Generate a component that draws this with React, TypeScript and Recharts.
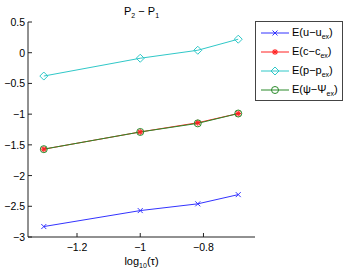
import React from 'react';
import { LineChart, Line, XAxis, YAxis } from 'recharts';

// log10(tau) and the four error curves (log10 of error)
const logTau = [-1.305, -1.0, -0.818, -0.69];
const errU = [-2.83, -2.57, -2.46, -2.31];
const errC = [-1.57, -1.29, -1.14, -0.99];
const errP = [-0.38, -0.09, 0.04, 0.22];
const errPsi = [-1.57, -1.29, -1.15, -0.99];

const xTicks = [-1.2, -1, -0.8];
const yTicks = [-3, -2.5, -2, -1.5, -1, -0.5, 0, 0.5];

const data = logTau.map((x, i) => ({ x, u: errU[i], c: errC[i], p: errP[i], psi: errPsi[i] }));

const FONT = '"Liberation Sans", Arial, sans-serif';
const AXIS = '#222';
const BLUE = '#3333ff';
const RED = '#ff2020';
const CYAN = '#30c8c8';
const GREEN = '#2a8a2a';

const fmt = (v: number) => (v < 0 ? '\u2212' + String(-v) : String(v));

// marker shapes, matlab style
const Marker = ({ kind, cx, cy, color }: any) => {
  if (kind === 'x') {
    const r = 2.5;
    return (
      <g stroke={color} strokeWidth={1}>
        <line x1={cx - r} y1={cy - r} x2={cx + r} y2={cy + r} />
        <line x1={cx - r} y1={cy + r} x2={cx + r} y2={cy - r} />
      </g>
    );
  }
  if (kind === 'star') {
    const r = 3;
    const d = r * 0.72;
    return (
      <g stroke={color} strokeWidth={1.1}>
        <line x1={cx - r} y1={cy} x2={cx + r} y2={cy} />
        <line x1={cx} y1={cy - r} x2={cx} y2={cy + r} />
        <line x1={cx - d} y1={cy - d} x2={cx + d} y2={cy + d} />
        <line x1={cx - d} y1={cy + d} x2={cx + d} y2={cy - d} />
      </g>
    );
  }
  if (kind === 'diamond') {
    const r = 4;
    return (
      <polygon
        points={`${cx},${cy - r} ${cx + r},${cy} ${cx},${cy + r} ${cx - r},${cy}`}
        fill="none"
        stroke={color}
        strokeWidth={1}
      />
    );
  }
  return <circle cx={cx} cy={cy} r={3.5} fill="none" stroke={color} strokeWidth={1} />;
};

const dotFor = (kind: string, color: string) => (p: any) => (
  <Marker key={`${kind}-${p.index}`} kind={kind} cx={p.cx} cy={p.cy} color={color} />
);

// ticks drawn inward, matlab style
const BottomTick = (p: any) => (
  <g>
    <line x1={p.x} y1={p.y} x2={p.x} y2={p.y - 4} stroke={AXIS} />
    <text x={p.x} y={p.y + 14} textAnchor="middle" fontSize={10.5} fontFamily={FONT} fill="#000">
      {fmt(p.payload.value)}
    </text>
  </g>
);
const TopTick = (p: any) => <line x1={p.x} y1={p.y} x2={p.x} y2={p.y + 4} stroke={AXIS} />;
const LeftTick = (p: any) => (
  <g>
    <line x1={p.x} y1={p.y} x2={p.x + 4} y2={p.y} stroke={AXIS} />
    <text x={p.x - 3} y={p.y + 4} textAnchor="end" fontSize={10.5} fontFamily={FONT} fill="#000">
      {fmt(p.payload.value)}
    </text>
  </g>
);
const RightTick = (p: any) => <line x1={p.x} y1={p.y} x2={p.x - 4} y2={p.y} stroke={AXIS} />;

const legendRows = [
  { kind: 'x', color: BLUE, a: 'u', b: 'u' },
  { kind: 'star', color: RED, a: 'c', b: 'c' },
  { kind: 'diamond', color: CYAN, a: 'p', b: 'p' },
  { kind: 'circle', color: GREEN, a: '\u03c8', b: '\u03a8' },
];

const subStyle: React.CSSProperties = { fontSize: 7, verticalAlign: -3, lineHeight: 0 };

const LegendBox = () => (
  <div
    style={{
      position: 'absolute',
      left: 255,
      top: 21,
      border: '1px solid #444',
      background: '#fff',
      width: 86,
      height: 77,
      paddingTop: 1,
      fontFamily: FONT,
      fontSize: 11,
    }}
  >
    {legendRows.map((r) => (
      <div key={r.kind} style={{ display: 'flex', alignItems: 'center', height: 19 }}>
        <svg width={36} height={19} style={{ flex: 'none' }}>
          <line x1={5} y1={10} x2={33} y2={10} stroke={r.color} strokeWidth={1} />
          <Marker kind={r.kind} cx={19} cy={10} color={r.color} />
        </svg>
        <span style={{ whiteSpace: 'nowrap', lineHeight: '19px' }}>
          E({r.a}
          {'\u2212'}
          {r.b}
          <span style={subStyle}>ex</span>)
        </span>
      </div>
    ))}
  </div>
);

export default function App() {
  return (
    <div style={{ position: 'absolute', left: 0, top: 0, width: 354, height: 273, background: '#fff' }}>
      <LineChart width={354} height={273} data={data} margin={{ top: 22, right: 99, left: 0, bottom: 0 }}>
        <XAxis
          dataKey="x"
          type="number"
          domain={[-1.355, -0.637]}
          allowDataOverflow
          ticks={xTicks}
          interval={0}
          height={36}
          tickSize={0}
          tickMargin={0}
          tickLine={false}
          tick={<BottomTick />}
          axisLine={{ stroke: AXIS }}
        />
        <XAxis
          xAxisId="top"
          orientation="top"
          dataKey="x"
          type="number"
          domain={[-1.355, -0.637]}
          allowDataOverflow
          ticks={xTicks}
          interval={0}
          height={0}
          tickSize={0}
          tickMargin={0}
          tickLine={false}
          tick={<TopTick />}
          axisLine={{ stroke: AXIS }}
        />
        <YAxis
          type="number"
          domain={[-3, 0.5]}
          ticks={yTicks}
          interval={0}
          width={28}
          tickSize={0}
          tickMargin={0}
          tickLine={false}
          tick={<LeftTick />}
          axisLine={{ stroke: AXIS }}
        />
        <YAxis
          yAxisId="right"
          orientation="right"
          type="number"
          domain={[-3, 0.5]}
          ticks={yTicks}
          interval={0}
          width={0}
          tickSize={0}
          tickMargin={0}
          tickLine={false}
          tick={<RightTick />}
          axisLine={{ stroke: AXIS }}
        />
        <Line dataKey="u" stroke={BLUE} strokeWidth={1} dot={dotFor('x', BLUE)} isAnimationActive={false} />
        <Line dataKey="c" stroke={RED} strokeWidth={1} dot={dotFor('star', RED)} isAnimationActive={false} />
        <Line dataKey="p" stroke={CYAN} strokeWidth={1} dot={dotFor('diamond', CYAN)} isAnimationActive={false} />
        <Line dataKey="psi" stroke={GREEN} strokeWidth={1} dot={dotFor('circle', GREEN)} isAnimationActive={false} />
      </LineChart>
      <LegendBox />
      <div
        style={{
          position: 'absolute',
          left: 28,
          width: 227,
          top: 5,
          textAlign: 'center',
          fontFamily: FONT,
          fontSize: 11,
          lineHeight: '13px',
        }}
      >
        P<span style={subStyle}>2</span> {'\u2212'} P<span style={subStyle}>1</span>
      </div>
      <div
        style={{
          position: 'absolute',
          left: 28,
          width: 227,
          top: 255,
          textAlign: 'center',
          fontFamily: FONT,
          fontSize: 11,
          lineHeight: '13px',
        }}
      >
        log<span style={subStyle}>10</span>({'\u03c4'})
      </div>
    </div>
  );
}
